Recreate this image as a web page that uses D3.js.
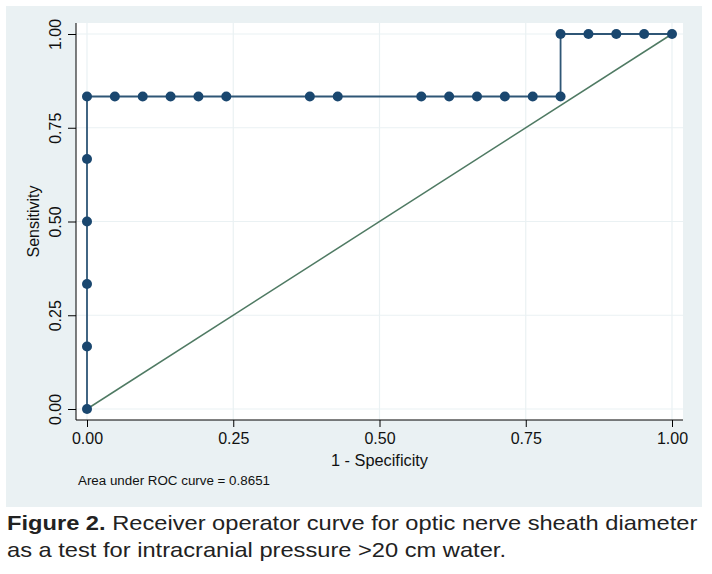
<!DOCTYPE html>
<html><head><meta charset="utf-8">
<script src="https://cdn.jsdelivr.net/npm/d3@7/dist/d3.min.js"></script>
<style>
body{margin:0;background:#fff;}
svg text{font-family:"Liberation Sans",Arial,sans-serif;}
</style></head>
<body><svg id="c" width="712" height="574"></svg>
<script>
// 1 - Specificity (in 21sts) and Sensitivity (in 6ths) for each ROC point
const fprNum = [0,0,0,0,0,0,1,2,3,4,5,8,9,12,13,14,15,16,17,17,18,19,20,21];
const tprNum = [0,1,2,3,4,5,5,5,5,5,5,5,5,5,5,5,5,5,5,6,6,6,6,6];
const fpr = fprNum.map(d => d/21);
const tpr = tprNum.map(d => d/6);
const xTicks = [0,0.25,0.5,0.75,1];
const yTicks = [0,0.25,0.5,0.75,1];
const aucText = "Area under ROC curve = 0.8651";

const svg = d3.select("#c");
svg.append("rect").attr("x",6).attr("y",6).attr("width",696).attr("height",501).attr("fill","#eaf1f3");
const L=76,T=23,R=683,B=420;
svg.append("rect").attr("x",L).attr("y",T).attr("width",R-L).attr("height",B-T).attr("fill","#fff");
const x = d3.scaleLinear().domain([0,1]).range([87,672]);
const y = d3.scaleLinear().domain([0,1]).range([409,34]);

// grid
svg.append("g").selectAll("line").data(xTicks).join("line")
  .attr("x1",d=>x(d)).attr("x2",d=>x(d)).attr("y1",T).attr("y2",B)
  .attr("stroke","#eaf1f3").attr("stroke-width",1.2);
svg.append("g").selectAll("line").data(yTicks).join("line")
  .attr("y1",d=>y(d)).attr("y2",d=>y(d)).attr("x1",L).attr("x2",R)
  .attr("stroke","#eaf1f3").attr("stroke-width",1.2);

// axes
const fmt = d3.format(".2f");
const xa = svg.append("g").attr("transform",`translate(0,${B})`)
  .call(d3.axisBottom(x).tickValues(xTicks).tickFormat(fmt).tickSize(7).tickSizeOuter(0));
xa.select(".domain").attr("d",`M${L},0H${R}`).attr("stroke","#000");
xa.selectAll("text").attr("font-size",16).attr("fill","#111").attr("dy","0.9em");
const ya = svg.append("g").attr("transform",`translate(${L},0)`)
  .call(d3.axisLeft(y).tickValues(yTicks).tickFormat(fmt).tickSize(8).tickSizeOuter(0));
ya.select(".domain").attr("d",`M0,${T}V${B}`).attr("stroke","#000");
ya.selectAll(".tick text").attr("font-size",16).attr("fill","#111").each(function(){
  d3.select(this).attr("x",0).attr("y",0).attr("dy","0")
    .attr("transform",`translate(-15,0) rotate(-90)`).attr("text-anchor","middle");
});

// diagonal
svg.append("line").attr("x1",x(0)).attr("y1",y(0)).attr("x2",x(1)).attr("y2",y(1))
  .attr("stroke","#4f7a63").attr("stroke-width",1.5);
// ROC line
const pts = fpr.map((d,i)=>[d,tpr[i]]);
svg.append("path").datum(pts)
  .attr("d",d3.line().x(d=>x(d[0])).y(d=>y(d[1])))
  .attr("fill","none").attr("stroke","#2f5676").attr("stroke-width",1.8);
svg.append("g").selectAll("circle").data(pts).join("circle")
  .attr("cx",d=>x(d[0])).attr("cy",d=>y(d[1])).attr("r",5).attr("fill","#1a476f");

// titles
svg.append("text").attr("x",(x(0)+x(1))/2).attr("y",466).attr("text-anchor","middle")
  .attr("font-size",16).attr("fill","#111")
  .attr("textLength",97).attr("lengthAdjust","spacingAndGlyphs").text("1 - Specificity");
svg.append("text").attr("transform",`translate(39,${(y(0)+y(1))/2}) rotate(-90)`)
  .attr("text-anchor","middle").attr("font-size",16).attr("fill","#111").text("Sensitivity");
svg.append("text").attr("x",78).attr("y",485).attr("font-size",12.5).attr("fill","#111")
  .attr("textLength",192).attr("lengthAdjust","spacingAndGlyphs").text(aucText);

// caption (horizontally stretched to match the reference typeface width)
const capG = svg.append("g").attr("transform","translate(7,0) scale(1.155,1)");
const cap = capG.append("text").attr("x",0).attr("y",530).attr("font-size",20.5).attr("fill","#222");
cap.append("tspan").attr("font-weight","bold").text("Figure 2.");
cap.append("tspan").text(" Receiver operator curve for optic nerve sheath diameter");
capG.append("text").attr("x",0).attr("y",557).attr("font-size",20.5).attr("fill","#222")
  .text("as a test for intracranial pressure >20 cm water.");
</script></body></html>
